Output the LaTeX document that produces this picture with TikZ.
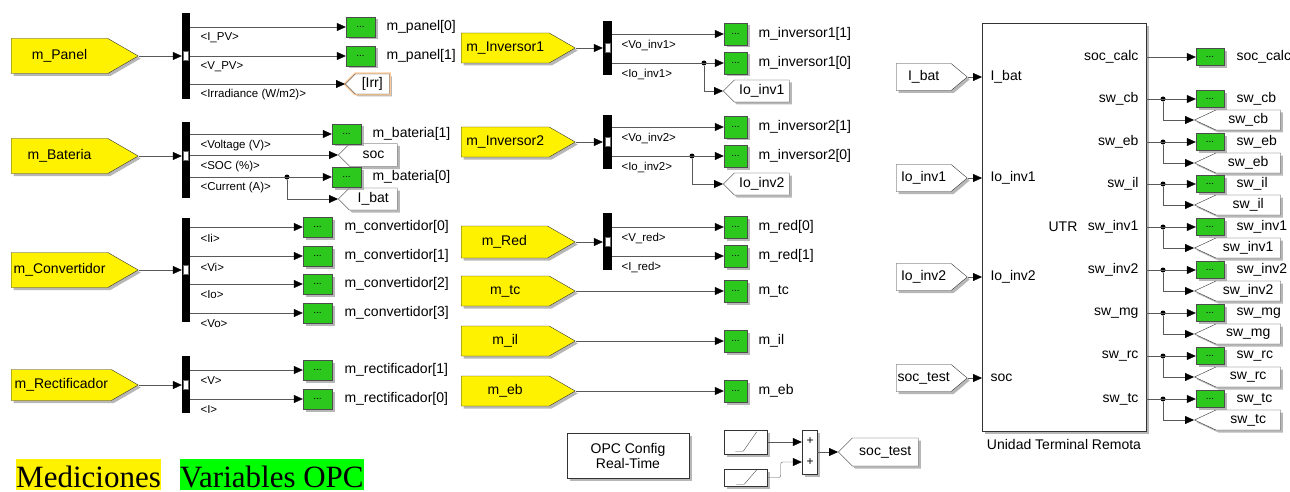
\documentclass[tikz,border=0pt]{standalone}
\usepackage{fontspec}
\setmainfont{Liberation Serif}
\setsansfont{Liberation Sans}
\usetikzlibrary{shapes.symbols,arrows.meta,shadows,calc}
\definecolor{dispgreen}{RGB}{45,200,30}
\definecolor{legendgreen}{RGB}{0,255,0}
\newcommand{\fsz}[1]{\fontsize{#1}{#1}\selectfont}

\begin{document}
\begin{tikzpicture}[x=1pt,y=-1pt,font=\sffamily\fsz{14},
    blkshadow/.style={drop shadow={shadow xshift=2.5pt,shadow yshift=-2.5pt,fill=black!40,opacity=.7}},
    fromblk/.style={signal,signal to=east,signal pointer angle=60,draw=black!80,fill=yellow,
      minimum height=35pt,inner sep=0pt,blkshadow},
    fromwht/.style={signal,signal to=east,signal pointer angle=80,draw=black!80,fill=white,
      minimum width=71pt,minimum height=27pt,inner sep=0pt,blkshadow},
    gotoblk/.style={signal,signal to=west,signal pointer angle=90,draw=black!80,fill=white,
      minimum height=21pt,inner sep=0pt,blkshadow},
    busbar/.style={fill=black,minimum width=8pt,inner sep=0pt},
    portmark/.style={draw=black!60,fill=white,minimum width=5pt,minimum height=9pt,inner sep=0pt},
    disp/.style={draw=black!70,fill=dispgreen,minimum width=29pt,minimum height=20pt,
      inner sep=0pt,font=\sffamily\fsz{10},blkshadow},
    dispm/.style={disp,minimum width=23pt,minimum height=22pt},
    disps/.style={disp,minimum width=28pt,minimum height=17pt},
    plainblk/.style={draw=black!80,fill=white,inner sep=0pt,blkshadow},
    sig/.style={draw=black!65,-{Triangle[length=9pt,width=8pt,color=black]}},
    buslbl/.style={anchor=west,font=\sffamily\fsz{11.5}},
    dlbl/.style={anchor=west},
    junc/.style={circle,fill=black,inner sep=0pt,minimum size=5pt}]
  \useasboundingbox (0,0) rectangle (1290,492);

  % ---------- panel
  \node[fromblk,minimum width=127pt,anchor=west] (fPanel) at (11,56) {m\_Panel};
  \node[busbar,minimum height=86pt] (bPanel) at (186,56) {};
  \draw[sig] (fPanel.east) -- (bPanel.west);
  \node[portmark] at (bPanel.center) {};
  \node[disp] (dPanel0) at (360.5,27) {...};
  \node[disp] (dPanel1) at (360.5,56) {...};
  \node[gotoblk,minimum width=44pt,minimum height=20pt,anchor=west,
    preaction={draw=orange!40,line width=3pt}] (gIrr) at (345,84) {[Irr]};
  \draw[sig] (bPanel.east |- dPanel0) -- (dPanel0.west);
  \draw[sig] (bPanel.east |- dPanel1) -- (dPanel1.west);
  \draw[sig] (bPanel.east |- gIrr.west) -- (gIrr.west);
  \node[dlbl] at (383,27) {m\_panel[0]};
  \node[dlbl] at (383,56) {m\_panel[1]};
  \node[buslbl] at (197,38) {<I\_PV>};
  \node[buslbl] at (197,67) {<V\_PV>};
  \node[buslbl] at (197,95) {<Irradiance (W/m2)>};

  % ---------- battery
  \node[fromblk,minimum width=127pt,anchor=west] (fBat) at (11,156) {m\_Bateria};
  \node[busbar,minimum height=76pt] (bBat) at (186,160) {};
  \draw[sig] (fBat.east) -- (fBat.east -| bBat.west);
  \node[portmark] at (bBat.center |- fBat.east) {};
  \node[gotoblk,minimum width=59pt,minimum height=23pt,anchor=west] (gSoc) at (338,155) {soc};
  \node[gotoblk,minimum width=59pt,minimum height=22pt,anchor=west] (gIbat) at (338,199) {I\_bat};
  \node[disp] (dBat1) at (346.5,134) {...};
  \node[disp] (dBat0) at (346.5,177) {...};
  \node[junc] (jBat) at (287,177) {};
  \draw[sig] (bBat.east |- dBat1) -- (dBat1.west);
  \draw[sig] (bBat.east |- gSoc.west) -- (gSoc.west);
  \draw[sig] (bBat.east |- dBat0) -- (dBat0.west);
  \draw[sig] (jBat) |- (gIbat.west);
  \node[dlbl] at (369,134) {m\_bateria[1]};
  \node[dlbl] at (369,177) {m\_bateria[0]};
  \node[buslbl] at (197,146) {<Voltage (V)>};
  \node[buslbl] at (197,167) {<SOC (\%)>};
  \node[buslbl] at (197,188) {<Current (A)>};

  % ---------- converter
  \node[fromblk,minimum width=127pt,anchor=west] (fConv) at (11,270) {m\_Convertidor};
  \node[busbar,minimum height=104pt] (bConv) at (186,270) {};
  \draw[sig] (fConv.east) -- (bConv.west);
  \node[portmark] at (bConv.center) {};
  \foreach \i/\y/\s in {0/227/Ii,1/256/Vi,2/284/Io,3/313/Vo} {
    \node[disp] (dConv\i) at (317.5,\y) {...};
    \draw[sig] (bConv.east |- dConv\i) -- (dConv\i.west);
    \node[dlbl] at (341,\y) {m\_convertidor[\i]};
    \node[buslbl] at (197,\y+11) {<\s>};
  }

  % ---------- rectifier
  \node[fromblk,minimum width=127pt,minimum height=31pt,anchor=west] (fRect) at (11,385) {m\_Rectificador};
  \node[busbar,minimum height=57pt] (bRect) at (186,384.5) {};
  \draw[sig] (fRect.east) -- (fRect.east -| bRect.west);
  \node[portmark] at (bRect.center |- fRect.east) {};
  \foreach \i/\y/\s in {1/370/V,0/399/I} {
    \node[disp] (dRect\i) at (317.5,\y) {...};
    \draw[sig] (bRect.east |- dRect\i) -- (dRect\i.west);
    \node[dlbl] at (341,\y) {m\_rectificador[\i]};
    \node[buslbl] at (197,\y+11) {<\s>};
  }

  % ---------- inverters
  \foreach \n/\yc/\ya/\yb/\xj in {1/48/34/63/704,2/142/127/156/692} {
    \node[fromblk,minimum width=114pt,minimum height=30pt,anchor=west] (fInv\n) at (461,\yc) {m\_Inversor\n};
    \node[busbar,minimum width=9pt,minimum height=54pt] (bInv\n) at (607.5,\yc) {};
    \draw[sig] (fInv\n.east) -- (bInv\n.west);
    \node[portmark] at (bInv\n.center) {};
    \node[dispm] (dInvA\n) at (735.5,\ya) {...};
    \node[dispm] (dInvB\n) at (735.5,\yb) {...};
    \node[gotoblk,minimum width=66pt,minimum height=22pt,anchor=west] (gInv\n) at (723,\yb+28) {Io\_inv\n};
    \node[junc] (jInv\n) at (\xj,\yb) {};
    \draw[sig] (bInv\n.east |- dInvA\n) -- (dInvA\n.west);
    \draw[sig] (bInv\n.east |- dInvB\n) -- (dInvB\n.west);
    \draw[sig] (jInv\n) |- (gInv\n.west);
    \node[dlbl] at (755,\ya) {m\_inversor\n[1]};
    \node[dlbl] at (755,\yb) {m\_inversor\n[0]};
    \node[buslbl] at (618,\ya+11) {<Vo\_inv\n>};
    \node[buslbl] at (618,\yb+11) {<Io\_inv\n>};
  }

  % ---------- grid
  \node[fromblk,minimum width=114pt,minimum height=32pt,anchor=west] (fRed) at (461,242) {m\_Red};
  \node[busbar,minimum width=9pt,minimum height=57pt] (bRed) at (607.5,241.5) {};
  \draw[sig] (fRed.east) -- (fRed.east -| bRed.west);
  \node[portmark] at (bRed.center |- fRed.east) {};
  \foreach \i/\y/\s in {0/227/V,1/256/I} {
    \node[dispm] (dRed\i) at (735.5,\y) {...};
    \draw[sig] (bRed.east |- dRed\i) -- (dRed\i.west);
    \node[dlbl] at (755,\y) {m\_red[\i]};
    \node[buslbl] at (618,\y+11) {<\s\_red>};
  }

  % ---------- single measurements
  \foreach \s/\y in {tc/291,il/341,eb/391} {
    \node[fromblk,minimum width=114pt,minimum height=30pt,anchor=west] (f\s) at (461,\y) {m\_\s};
    \node[dispm] (d\s) at (735.5,\y) {...};
    \draw[sig] (f\s.east) -- (d\s.west);
    \node[dlbl] at (755,\y) {m\_\s};
  }

  % ---------- OPC config and soc test signal
  \node[plainblk,minimum width=122pt,minimum height=45pt,align=center,
    font=\sffamily\fontsize{14}{15}\selectfont] (opc) at (628,455.5) {OPC Config\\Real-Time};
  \node[plainblk,minimum width=43pt,minimum height=24pt] (rampA) at (746,442) {};
  \node[plainblk,minimum width=43pt,minimum height=17pt] (rampB) at (746,477.5) {};
  \draw[black!70] ($(rampA.south west)+(11,-3)$) -- +(8,0) -- ($(rampA.north east)+(-11,2)$);
  \draw[black!70] ($(rampB.south west)+(12,-2)$) -- +(8,0) -- ($(rampB.north east)+(-11,1)$);
  \node[plainblk,minimum width=15pt,minimum height=44pt] (sum) at (809.5,452) {};
  \node[font=\sffamily\fsz{12}] at (810,441) {+};
  \node[font=\sffamily\fsz{12}] at (810,462) {+};
  \node[gotoblk,minimum width=80pt,minimum height=28pt,anchor=west] (gTest) at (838,452) {soc\_test};
  \draw[sig] (rampA.east) -- (rampA.east -| sum.west);
  \draw[sig,rounded corners=2pt] (rampB.east) -- ++(13,0) |- ($(sum.west)+(0,10)$);
  \draw[sig] (sum.east) -- (gTest.west);

  % ---------- remote terminal unit
  \node[plainblk,minimum width=164pt,minimum height=408pt,anchor=north west] (utr) at (982,23) {};
  \node at (1063,227) {UTR};
  \node at (1064,444) {Unidad Terminal Remota};
  \foreach \n/\t/\p/\y in {Ibat/I\_bat/I\_bat/77,Inv1/Io\_inv1/Io\_inv1/178,
                           Inv2/Io\_inv2/Io\_inv2/277,Soc/soc\_test/soc/378} {
    \node[fromwht,anchor=west] (fU\n) at (896,\y) {\t};
    \node[anchor=west] (pU\n) at (987,\y) {\p};
    \draw[sig] (fU\n.east) -- (fU\n.east -| utr.west);
  }
  \node[anchor=east] (oSoc) at (1142,57) {soc\_calc};
  \node[disps] (dSoc) at (1210,57) {...};
  \draw[sig] (utr.east |- oSoc) -- (dSoc.west);
  \node[dlbl] at (1233,57) {soc\_calc};
  \foreach \s/\y in {cb/99,eb/142,il/184,inv1/227,inv2/270,mg/313,rc/356,tc/399} {
    \node[anchor=east] (o\s) at (1142,\y) {sw\_\s};
    \node[gotoblk,signal pointer angle=50,minimum width=86pt,minimum height=20pt,anchor=west] (g\s) at (1194,\y+21) {sw\_\s};
    \node[disps] (dsw\s) at (1210,\y) {...};
    \node[junc] (j\s) at (1163,\y) {};
    \draw[sig] (utr.east |- o\s) -- (dsw\s.west);
    \draw[sig] (j\s) |- (g\s.west);
    \node[dlbl] at (1233,\y) {sw\_\s};
  }

  % ---------- legend
  \node[fill=yellow,inner sep=0pt,text height=28pt,text depth=3pt,anchor=base west,
    font=\rmfamily\fsz{31}] (legMed) at (16,487) {Mediciones};
  \node[fill=legendgreen,inner sep=0pt,text height=28pt,text depth=3pt,anchor=base west,
    font=\rmfamily\fsz{31}] (legOpc) at (180,487) {Variables OPC};
\end{tikzpicture}
\end{document}
